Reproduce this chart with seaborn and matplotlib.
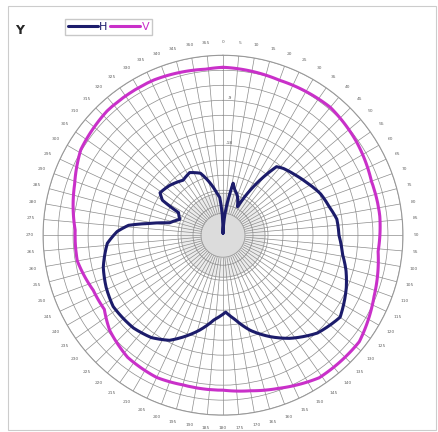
import numpy as np
import pandas as pd
import matplotlib
matplotlib.use("Agg")
import matplotlib.pyplot as plt
import seaborn as sns
from matplotlib.patches import Rectangle

# Radiation pattern (degrees, dB relative to outer ring)
angles_h = [0, 3, 9, 11, 14, 20, 27, 32, 38, 42, 50, 58, 67, 75, 82, 90, 99, 106,
            113, 125, 136, 147, 155, 164, 172, 178, 186, 194, 207, 215, 224, 237,
            246, 255, 266, 272, 276, 279, 283, 290, 297, 300, 304, 313, 324, 332,
            340, 346, 352, 355, 358, 360]
db_h = [-35.6, -34.0, -28.0, -25.4, -26.5, -27.6, -29.6, -24.6, -18.6, -18.0,
        -17.2, -16.2, -14.8, -14.0, -13.0, -12.8, -11.8, -10.4, -9.2, -7.4, -8.8,
        -11.4, -13.6, -16.2, -19.0, -20.6, -19.0, -16.4, -12.4, -11.0, -10.2,
        -9.8, -10.4, -11.2, -12.8, -14.8, -17.0, -21.0, -25.0, -26.8, -26.0,
        -22.0, -20.8, -21.4, -22.4, -21.8, -22.8, -25.2, -27.6, -28.4, -32.0,
        -35.6]

angles_v = [0, 20, 40, 55, 70, 83, 96, 112, 128, 146, 160, 170, 180, 195, 205,
            218, 230, 238, 247, 260, 272, 289, 301, 317, 336, 354, 360]
db_v = [-2.4, -3.0, -2.6, -3.4, -4.4, -4.4, -4.8, -3.4, -1.4, -1.6, -3.4, -4.4,
        -5.0, -5.0, -4.6, -5.0, -6.4, -8.0, -7.8, -6.4, -6.4, -4.6, -2.8, -2.0,
        -2.0, -2.6, -2.4]

ring_values = list(range(-33, 1, 3))
ring_labels = {-9: "-9", -18: "-18"}

sns.set_style("white")
fig = plt.figure(figsize=(4.39, 4.32), dpi=100)
ax = fig.add_axes([0.098, 0.039, 0.820, 0.833], projection="polar")
ax.set_theta_zero_location("N")
ax.set_theta_direction(-1)
ax.set_ylim(-36, 0)

df_h = pd.DataFrame({"theta": np.deg2rad(angles_h), "r": db_h})
df_v = pd.DataFrame({"theta": np.deg2rad(angles_v), "r": db_v})

# shaded centre discs
full = np.linspace(0, 2 * np.pi, 200)
ax.fill_between(full, -36, -36 + 42 / 5, color="#ececec", zorder=0.5, lw=0)
ax.fill_between(full, -36, -36 + 22 / 5, color="#dcdcdc", zorder=0.6, lw=0)
ax.plot(full, np.full(200, -36 + 42 / 5), color="#9a9a9a", lw=0.6, zorder=0.7)
ax.plot(full, np.full(200, -36 + 22 / 5), color="#9a9a9a", lw=0.6, zorder=0.7)

sns.lineplot(data=df_v, x="theta", y="r", sort=False, estimator=None, ax=ax,
             color="#c930c9", lw=2.2, label="V", zorder=5)
sns.lineplot(data=df_h, x="theta", y="r", sort=False, estimator=None, ax=ax,
             color="#1c1c6b", lw=2.2, label="H", zorder=6)
# draw the segments as arcs in polar space
for line in ax.get_lines()[-2:]:
    line.get_path()._interpolation_steps = 40
    line.set_solid_joinstyle("round")

ax.set_xlabel("")
ax.set_ylabel("")
ax.set_thetagrids(np.arange(0, 360, 5), [str(a) for a in range(0, 360, 5)],
                  fontsize=3.2, color="#666666")
ax.tick_params(axis="x", pad=-1)
ax.set_rgrids(ring_values, [ring_labels.get(v, "") for v in ring_values],
              angle=2, fontsize=3.2, color="#555555")
ax.grid(True, color="#8c8c8c", lw=0.5)
ax.spines["polar"].set_color("#999999")
ax.spines["polar"].set_linewidth(0.8)
ax.legend().remove()

handles, labels = ax.get_legend_handles_labels()
order = [labels.index("H"), labels.index("V")]
fig.legend([handles[i] for i in order], [labels[i] for i in order],
           loc="upper left", bbox_to_anchor=(0.135, 0.968), ncol=2,
           fontsize=8, handlelength=2.7, handletextpad=0.1, columnspacing=0.3,
           frameon=True, fancybox=False, edgecolor="#bbbbbb", borderpad=0.25,
           labelcolor=["#1c1c6b", "#c930c9"])

fig.text(0.035, 0.93, "Y", fontsize=9, fontweight="bold", va="center")
fig.patches.append(Rectangle((0.018, 0.005), 0.975, 0.982, transform=fig.transFigure,
                             fill=False, edgecolor="#cccccc", lw=0.8))

fig.savefig("out.png", dpi=100)
